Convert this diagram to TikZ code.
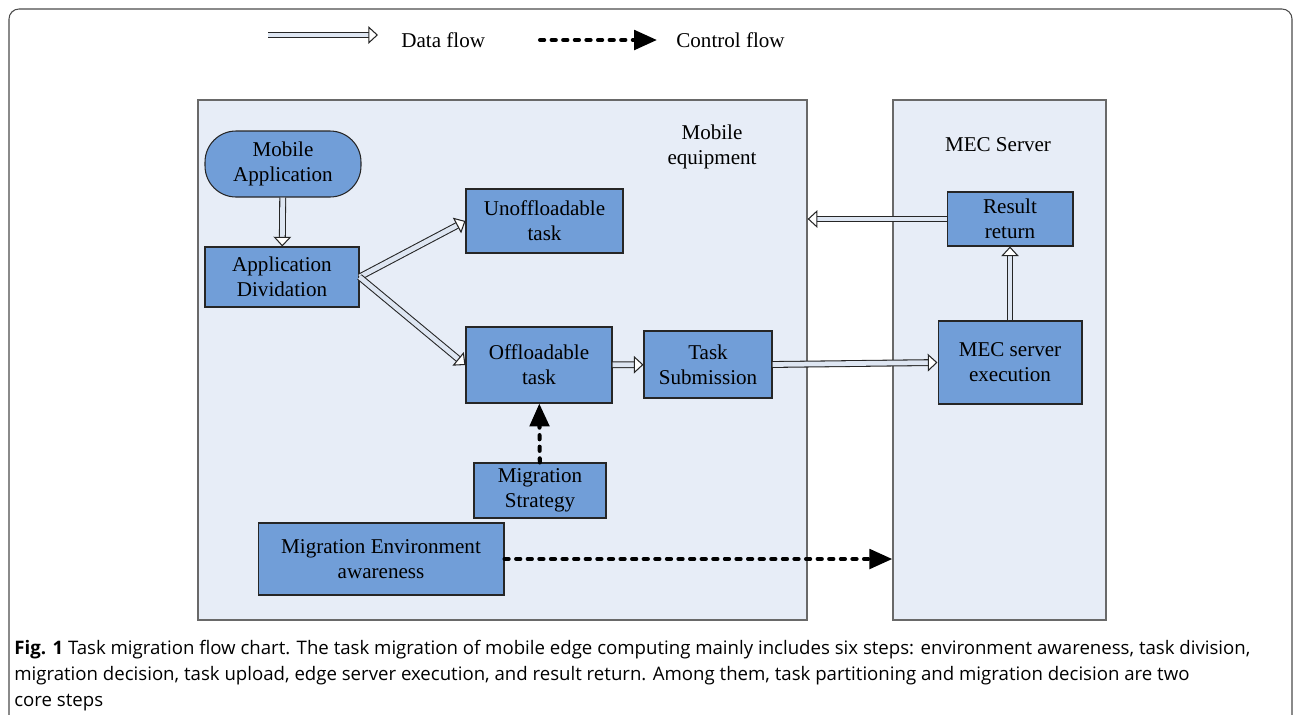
\documentclass[tikz,border=0pt]{standalone}
\usepackage{fontspec}
\setmainfont{Liberation Serif}
\newfontfamily\capfont{Open Sans}
\usetikzlibrary{arrows.meta,positioning,calc}

\definecolor{panelfill}{RGB}{231,237,247}
\definecolor{boxfill}{RGB}{113,158,216}
\definecolor{panelline}{RGB}{105,105,105}
\definecolor{shaftfill}{RGB}{222,230,242}

\tikzset{
  box/.style={draw=black!85, fill=boxfill, line width=0.6pt, align=center, inner sep=0pt,
    font=\fontsize{12}{14.2}\selectfont},
  panel/.style={draw=panelline, fill=panelfill, line width=0.8pt, inner sep=0pt},
  label/.style={align=center, inner sep=0pt, font=\fontsize{12}{14.6}\selectfont},
  dataflow/.style={draw=black!85, line width=0.6pt, double=shaftfill, double distance=2.7pt,
    -{Triangle[open, fill=white, length=5.5pt, width=10pt, line width=0.6pt]}},
  ctrlflow/.style={line width=2.3pt, line cap=round, dash pattern=on 2.4pt off 4.2pt,
    -{Triangle[length=13pt, width=11pt, line cap=butt]}}
}

\begin{document}
\begin{tikzpicture}[x=0.02cm, y=-0.02cm]
  \useasboundingbox (0,0) rectangle (1293,714);
  \draw[black!70, line width=0.6pt, rounded corners=0.2cm] (9,9) rectangle (1292,770);

  \coordinate (d1) at (268,35);
  \coordinate (d2) at (378,35);
  \coordinate (c1) at (540,40);
  \coordinate (c2) at (657,40);
  \draw[dataflow] (d1) -- (d2);
  \draw[ctrlflow] (c1) -- (c2);
  \node[label, anchor=west] (dlab) at (401,40) {Data flow};
  \node[label, anchor=west] (clab) at (676,40) {Control flow};

  \node[panel, minimum width=12.18cm, minimum height=10.4cm] (mobile) at (502.5,360) {};
  \node[panel, minimum width=4.26cm, minimum height=10.4cm] (mec) at (999.5,360) {};
  \node[label] (mlab) at (712,147) {Mobile\\equipment};
  \node[label] (slab) at (998,145) {MEC Server};

  \node[box, rounded corners=0.62cm, minimum width=3.12cm, minimum height=1.32cm] (app) at (283,164) {Mobile\\Application};
  \node[box, minimum width=3.08cm, minimum height=1.2cm] (div) at (282,277) {Application\\Dividation};
  \node[box, minimum width=3.14cm, minimum height=1.28cm] (unoff) at (544.5,221) {Unoffloadable\\task};
  \node[box, minimum width=2.92cm, minimum height=1.52cm] (off) at (539,365) {Offloadable\\task};
  \node[box, minimum width=2.56cm, minimum height=1.34cm] (sub) at (708,364.5) {Task\\Submission};
  \node[box, minimum width=2.64cm, minimum height=1.1cm] (strat) at (540,490.5) {Migration\\Strategy};
  \node[box, minimum width=4.92cm, minimum height=1.44cm] (env) at (381,559) {Migration Environment\\awareness};
  \node[box, minimum width=2.52cm, minimum height=1.08cm] (res) at (1010,219) {Result\\return};
  \node[box, minimum width=2.88cm, minimum height=1.66cm] (exec) at (1010,362.5) {MEC server\\execution};

  \draw[dataflow] (app) -- (div);
  \draw[dataflow] (div.east) -- (unoff.west);
  \draw[dataflow] (div.east) -- (off.west);
  \draw[dataflow] (off) -- (sub);
  \draw[dataflow] (sub.east) -- (exec.west);
  \draw[dataflow] (exec) -- (res);
  \draw[dataflow] (res.west) -- (res.west -| mobile.east);
  \draw[ctrlflow] (strat) -- (off);
  \draw[ctrlflow] (env.east) -- (env.east -| mec.west);

  \node[anchor=base west, align=left, inner sep=0pt, font=\capfont\fontsize{10.6}{14.6}\selectfont] (cap) at (14,706)
    {\textbf{Fig. 1} Task migration flow chart. The task migration of mobile edge computing mainly includes six steps: environment awareness, task division,\\
     migration decision, task upload, edge server execution, and result return. Among them, task partitioning and migration decision are two\\
     core steps};
\end{tikzpicture}
\end{document}
